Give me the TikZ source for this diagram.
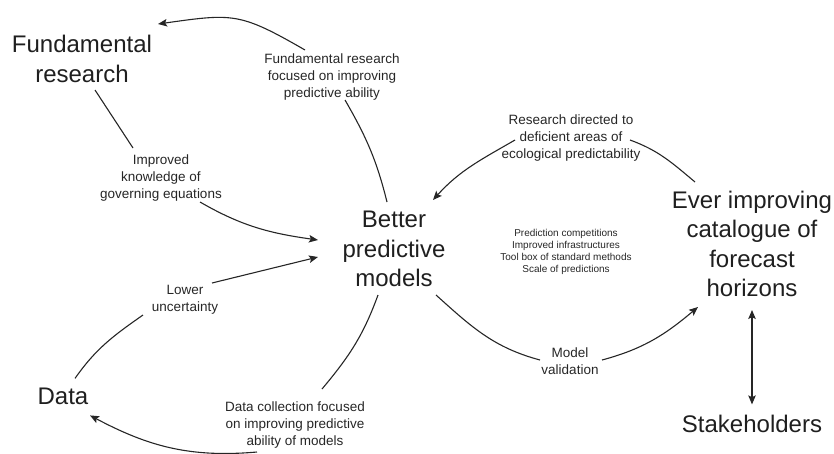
\documentclass[tikz,border=0pt]{standalone}
\usepackage{fontspec}
\setmainfont{Liberation Sans}
\usetikzlibrary{arrows.meta}
\begin{document}
\begin{tikzpicture}[x=1pt,y=-1pt,
  big/.style={font=\fontsize{24}{29.5}\selectfont, align=center, inner sep=0pt, text=black!88},
  small/.style={font=\fontsize{13.5}{17}\selectfont, align=center, inner sep=0pt, text=black!85},
  tiny/.style={font=\fontsize{10}{12}\selectfont, align=center, inner sep=0pt, text=black!85},
  conn/.style={line width=1.1pt, draw=black!85},
  tip/.tip={Stealth[length=9pt,width=7.5pt,inset=1.8pt]},
  arr/.style={conn, -tip},
  darr/.style={conn, tip-tip}]
\useasboundingbox (0,0) rectangle (834,453);
% main nodes
\node[big] (fr) at (82,59) {Fundamental\\research};
\node[big] (better) at (394,249) {Better\\predictive\\models};
\node[big] (ever) at (752,244) {Ever improving\\catalogue of\\forecast\\horizons};
\node[big] (stake) at (752,424.4) {Stakeholders};
\node[big] (data) at (63,396.4) {Data};
% labels
\node[small] (lfr) at (332,77) {Fundamental research\\focused on improving\\predictive ability};
\node[small] (limp) at (161,178) {Improved\\knowledge of\\governing equations};
\node[small] (lres) at (571,138) {Research directed to\\deficient areas of\\ecological predictability};
\node[small] (llow) at (185,300) {Lower\\uncertainty};
\node[small] (ldat) at (295,425) {Data collection focused\\on improving predictive\\ability of models};
\node[small] (lmod) at (570,361) {Model\\validation};
\node[tiny] (ltiny) at (566,252.4) {Prediction competitions\\Improved infrastructures\\Tool box of standard methods\\Scale of predictions};
% connectors
\draw[conn] ([shift={(-7,-47)}]better.center) to[out=104,in=-60] ([shift={(13,23)}]lfr.center);
\draw[arr] ([shift={(-27,-27)}]lfr.center) to[out=150,in=8,looseness=1.3] ([shift={(76,-35)}]fr.center);
\draw[conn] ([shift={(13,31)}]fr.center) -- ([shift={(-28,-30)}]limp.center);
\draw[arr] ([shift={(39,24)}]limp.center) to[out=-30,in=172] ([shift={(-76,-9)}]better.center);
\draw[conn] ([shift={(12,-18)}]data.center) to[out=55,in=-145] ([shift={(-42,15)}]llow.center);
\draw[arr] ([shift={(27,-17)}]llow.center) -- ([shift={(-76,8)}]better.center);
\draw[conn] ([shift={(-16,46)}]better.center) to[out=-110,in=50] ([shift={(27,-36)}]ldat.center);
\draw[arr] ([shift={(-38,27)}]ldat.center) to[out=185,in=-28] ([shift={(27,19)}]data.center);
\draw[conn] ([shift={(42,46)}]better.center) to[out=-42,in=165] ([shift={(-30,-1)}]lmod.center);
\draw[arr] ([shift={(32,-1)}]lmod.center) to[out=15,in=-140] ([shift={(-54,63)}]ever.center);
\draw[conn] ([shift={(-57,-62)}]ever.center) to[out=140,in=-20] ([shift={(59,2)}]lres.center);
\draw[arr] ([shift={(-56,2)}]lres.center) to[out=-150,in=48] ([shift={(39,-49)}]better.center);
\draw[darr] ([shift={(0,66)}]ever.center) -- ([shift={(0,-20)}]stake.center);
\end{tikzpicture}
\end{document}
